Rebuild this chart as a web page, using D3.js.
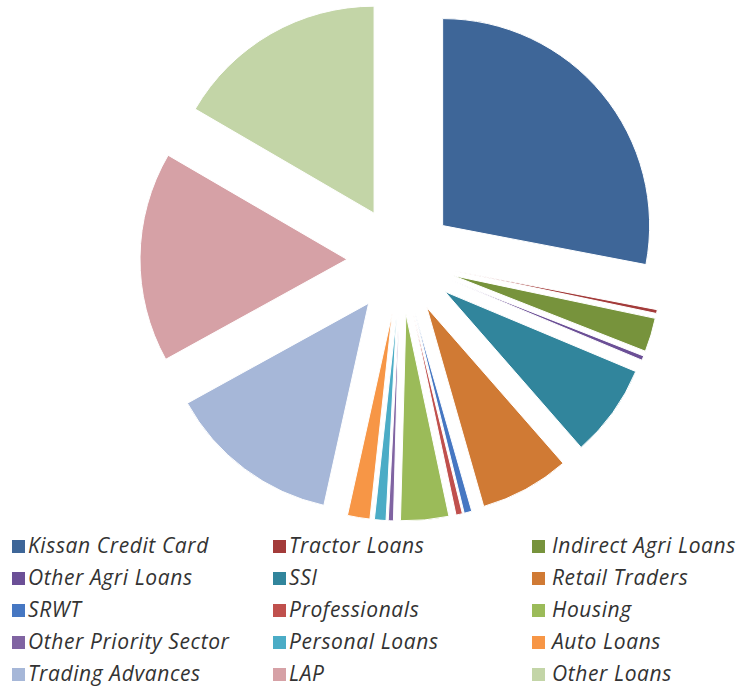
<!DOCTYPE html>
<html>
<head>
<meta charset="utf-8">
<script src="https://cdn.jsdelivr.net/npm/d3@7"></script>
<style>
  body { margin: 0; background: #fff; }
  .legend-label { font-family: "Open Sans", Lato, sans-serif; font-style: italic; font-size: 21px; letter-spacing: 0.6px; fill: #333; }
</style>
</head>
<body>
<div id="chart"></div>
<script>
// share of loan book by product, percent
const categories = [
  "Kissan Credit Card", "Tractor Loans", "Indirect Agri Loans",
  "Other Agri Loans", "SSI", "Retail Traders",
  "SRWT", "Professionals", "Housing",
  "Other Priority Sector", "Personal Loans", "Auto Loans",
  "Trading Advances", "LAP", "Other Loans"
];
const shares = [28.0, 0.3, 2.64, 0.35, 7.25, 7.0, 0.6, 0.5, 3.75, 0.4, 0.9, 1.75, 13.5, 16.4, 16.6];
const colors = [
  "#3e6698", "#a33b3a", "#77933c",
  "#6b4f96", "#31859c", "#d07a34",
  "#4677c2", "#c0504d", "#9bbb59",
  "#8064a2", "#4bacc6", "#f79646",
  "#a6b7d8", "#d6a1a6", "#c3d5a7"
];

const width = 755, height = 690;
const cx = 401, cy = 260;
const radius = 207, explode = 54;

const svg = d3.select("#chart").append("svg")
  .attr("width", width)
  .attr("height", height);

const data = categories.map((c, i) => ({ name: c, value: shares[i], color: colors[i] }));

const pie = d3.pie().sort(null).value(d => d.value);
const arc = d3.arc().innerRadius(0).outerRadius(radius);

const g = svg.append("g").attr("transform", `translate(${cx},${cy})`);

g.selectAll("path.slice")
  .data(pie(data))
  .join("path")
  .attr("class", "slice")
  .attr("d", arc)
  .attr("fill", d => d.data.color)
  .attr("stroke", "#fff")
  .attr("stroke-width", 1)
  .attr("transform", d => {
    const a = (d.startAngle + d.endAngle) / 2;
    return `translate(${explode * Math.sin(a)},${-explode * Math.cos(a)})`;
  });

// legend: 3 columns, 5 rows, filled row by row
const colX = [12, 273, 532];
const rowY = 546, rowStep = 32;

const legend = svg.append("g").attr("class", "legend");
const items = legend.selectAll("g")
  .data(data)
  .join("g")
  .attr("transform", (d, i) => `translate(${colX[i % 3]},${rowY + Math.floor(i / 3) * rowStep})`);

items.append("rect")
  .attr("x", 0)
  .attr("y", -6)
  .attr("width", 13)
  .attr("height", 13)
  .attr("fill", d => d.color);

items.append("text")
  .attr("class", "legend-label")
  .attr("x", (d, i) => i % 3 === 2 ? 20 : 16)
  .attr("y", 0)
  .attr("dy", "0.35em")
  .text(d => d.name);
</script>
</body>
</html>
